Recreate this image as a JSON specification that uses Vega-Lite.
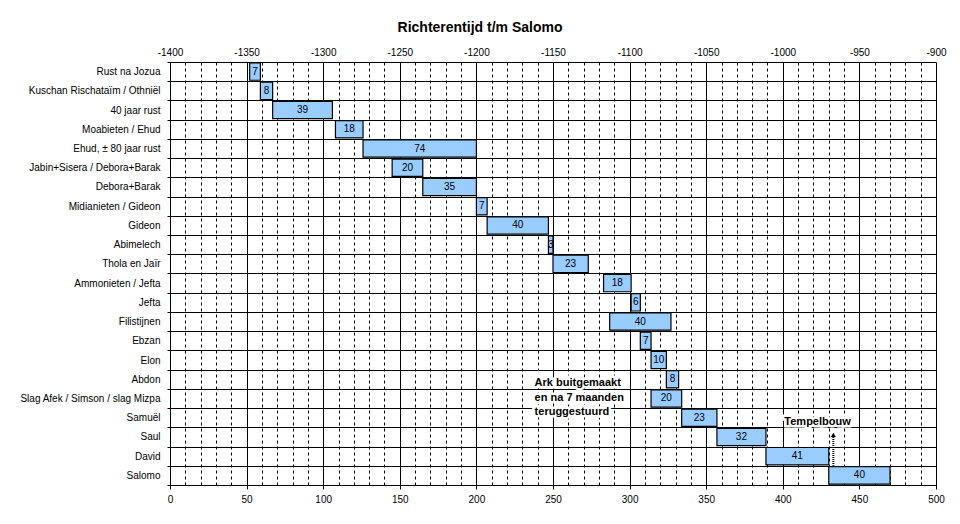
{
  "$schema": "https://vega.github.io/schema/vega-lite/v6.json",
  "width": 766,
  "height": 423,
  "autosize": {"type": "none"},
  "padding": {"left": 170, "top": 62, "right": 24, "bottom": 39},
  "background": "white",
  "title": {
    "text": "Richterentijd t/m Salomo",
    "font": "Liberation Sans",
    "fontSize": 14,
    "fontWeight": "bold",
    "color": "black",
    "anchor": "middle",
    "dx": -73,
    "baseline": "alphabetic",
    "offset": 1
  },
  "config": {
    "view": {"stroke": null},
    "font": "Liberation Sans"
  },
  "datasets": {
    "bars": [
      {"row": "Rust na Jozua", "start": 52, "end": 59, "dur": 7},
      {"row": "Kuschan Rischataïm / Othniël", "start": 59, "end": 67, "dur": 8},
      {"row": "40 jaar rust", "start": 67, "end": 106, "dur": 39},
      {"row": "Moabieten / Ehud", "start": 108, "end": 126, "dur": 18},
      {"row": "Ehud, ± 80 jaar rust", "start": 126, "end": 200, "dur": 74},
      {"row": "Jabin+Sisera / Debora+Barak", "start": 145, "end": 165, "dur": 20},
      {"row": "Debora+Barak", "start": 165, "end": 200, "dur": 35},
      {"row": "Midianieten / Gideon", "start": 200, "end": 207, "dur": 7},
      {"row": "Gideon", "start": 207, "end": 247, "dur": 40},
      {"row": "Abimelech", "start": 247, "end": 250, "dur": 3},
      {"row": "Thola en Jaïr", "start": 250, "end": 273, "dur": 23},
      {"row": "Ammonieten / Jefta", "start": 283, "end": 301, "dur": 18},
      {"row": "Jefta", "start": 301, "end": 307, "dur": 6},
      {"row": "Filistijnen", "start": 287, "end": 327, "dur": 40},
      {"row": "Ebzan", "start": 307, "end": 314, "dur": 7},
      {"row": "Elon", "start": 314, "end": 324, "dur": 10},
      {"row": "Abdon", "start": 324, "end": 332, "dur": 8},
      {"row": "Slag Afek / Simson / slag Mizpa", "start": 314, "end": 334, "dur": 20},
      {"row": "Samuël", "start": 334, "end": 357, "dur": 23},
      {"row": "Saul", "start": 357, "end": 389, "dur": 32},
      {"row": "David", "start": 389, "end": 430, "dur": 41},
      {"row": "Salomo", "start": 430, "end": 470, "dur": 40}
    ],
    "notes": [
      {"row": "Abdon", "xpos": 238, "lines": ["Ark buitgemaakt", "en na 7 maanden", "teruggestuurd"]},
      {"row": "Samuël", "xpos": 401, "lines": ["Tempelbouw"]}
    ],
    "arrow": [
      {"row": "Saul", "row2": "David", "xpos": 433}
    ]
  },
  "encoding": {
    "y": {
      "field": "row",
      "type": "nominal",
      "title": null,
      "scale": {
        "domain": ["Rust na Jozua", "Kuschan Rischataïm / Othniël", "40 jaar rust", "Moabieten / Ehud", "Ehud, ± 80 jaar rust", "Jabin+Sisera / Debora+Barak", "Debora+Barak", "Midianieten / Gideon", "Gideon", "Abimelech", "Thola en Jaïr", "Ammonieten / Jefta", "Jefta", "Filistijnen", "Ebzan", "Elon", "Abdon", "Slag Afek / Simson / slag Mizpa", "Samuël", "Saul", "David", "Salomo"],
        "paddingInner": 0,
        "paddingOuter": 0
      },
      "axis": {
        "tickBand": "extent",
        "grid": true,
        "gridColor": "black",
        "gridWidth": 1,
        "gridOpacity": 1,
        "domain": true,
        "domainColor": "black",
        "ticks": true,
        "tickColor": "black",
        "tickSize": 3,
        "labelPadding": 7,
        "labelFontSize": 10,
        "labelColor": "black",
        "labelFont": "Liberation Sans"
      }
    }
  },
  "layer": [
    {
      "data": {"name": "bars"},
      "mark": {"type": "bar", "fill": "#99CCFF", "stroke": "black", "strokeWidth": 1.2, "height": {"band": 0.9}},
      "encoding": {
        "x": {
          "field": "start",
          "type": "quantitative",
          "scale": {"domain": [0, 500], "nice": false, "zero": false},
          "axis": {
            "orient": "bottom",
            "title": null,
            "values": [0, 10, 20, 30, 40, 50, 60, 70, 80, 90, 100, 110, 120, 130, 140, 150, 160, 170, 180, 190, 200, 210, 220, 230, 240, 250, 260, 270, 280, 290, 300, 310, 320, 330, 340, 350, 360, 370, 380, 390, 400, 410, 420, 430, 440, 450, 460, 470, 480, 490, 500],
            "labelExpr": "datum.value % 50 === 0 ? datum.label : ''",
            "grid": true,
            "gridColor": "black",
            "gridOpacity": 1,
            "gridWidth": 1,
            "gridDash": {"condition": {"test": "datum.value % 50 === 0", "value": []}, "value": [3, 3]},
            "domain": true,
            "domainColor": "black",
            "ticks": true,
            "tickColor": "black",
            "tickSize": 4,
            "tickOpacity": {"condition": {"test": "datum.value % 50 === 0", "value": 1}, "value": 0},
            "labelPadding": 5,
            "labelFontSize": 10,
            "labelColor": "black",
            "labelFont": "Liberation Sans",
            "labelFlush": false,
            "labelOverlap": false
          }
        },
        "x2": {"field": "end"}
      }
    },
    {
      "data": {"name": "bars"},
      "transform": [
        {"fold": ["start", "end"], "as": ["edge", "pos"]},
        {"aggregate": [{"op": "mean", "field": "pos", "as": "mid"}, {"op": "max", "field": "dur", "as": "dur"}], "groupby": ["row"]}
      ],
      "mark": {"type": "text", "fontSize": 10, "color": "black", "font": "Liberation Sans", "baseline": "middle", "align": "center"},
      "encoding": {
        "x": {
          "field": "mid",
          "type": "quantitative",
          "scale": {"domain": [0, 500], "nice": false, "zero": false},
          "axis": {
            "orient": "top",
            "title": null,
            "values": [0, 50, 100, 150, 200, 250, 300, 350, 400, 450, 500],
            "labelExpr": "datum.value - 1400",
            "grid": false,
            "domain": false,
            "ticks": false,
            "labelPadding": 5,
            "labelFontSize": 10,
            "labelColor": "black",
            "labelFont": "Liberation Sans",
            "labelFlush": false,
            "labelOverlap": false
          }
        },
        "text": {"field": "dur", "type": "quantitative"}
      }
    },
    {
      "data": {"name": "notes"},
      "mark": {"type": "text", "fontSize": 11, "fontWeight": "bold", "color": "white", "stroke": "white", "strokeWidth": 5, "font": "Liberation Sans", "align": "left", "baseline": "middle", "lineHeight": 14.5, "yOffset": 4},
      "encoding": {
        "x": {"field": "xpos", "type": "quantitative", "scale": {"domain": [0, 500], "nice": false, "zero": false}, "axis": null},
        "text": {"field": "lines"}
      }
    },
    {
      "data": {"name": "notes"},
      "mark": {"type": "text", "fontSize": 11, "fontWeight": "bold", "color": "black", "font": "Liberation Sans", "align": "left", "baseline": "middle", "lineHeight": 14.5, "yOffset": 4},
      "encoding": {
        "x": {"field": "xpos", "type": "quantitative", "scale": {"domain": [0, 500], "nice": false, "zero": false}, "axis": null},
        "text": {"field": "lines"}
      }
    },
    {
      "data": {"name": "arrow"},
      "mark": {"type": "rule", "color": "black", "strokeWidth": 2, "strokeDash": [1, 1], "y2Offset": 9.6},
      "encoding": {
        "x": {"field": "xpos", "type": "quantitative", "scale": {"domain": [0, 500], "nice": false, "zero": false}, "axis": null},
        "y2": {"field": "row2"}
      }
    },
    {
      "data": {"name": "arrow"},
      "mark": {"type": "point", "shape": "triangle-up", "filled": true, "color": "black", "size": 24, "opacity": 1, "yOffset": -2},
      "encoding": {
        "x": {"field": "xpos", "type": "quantitative", "scale": {"domain": [0, 500], "nice": false, "zero": false}, "axis": null}
      }
    }
  ],
  "resolve": {"axis": {"x": "independent"}}
}
